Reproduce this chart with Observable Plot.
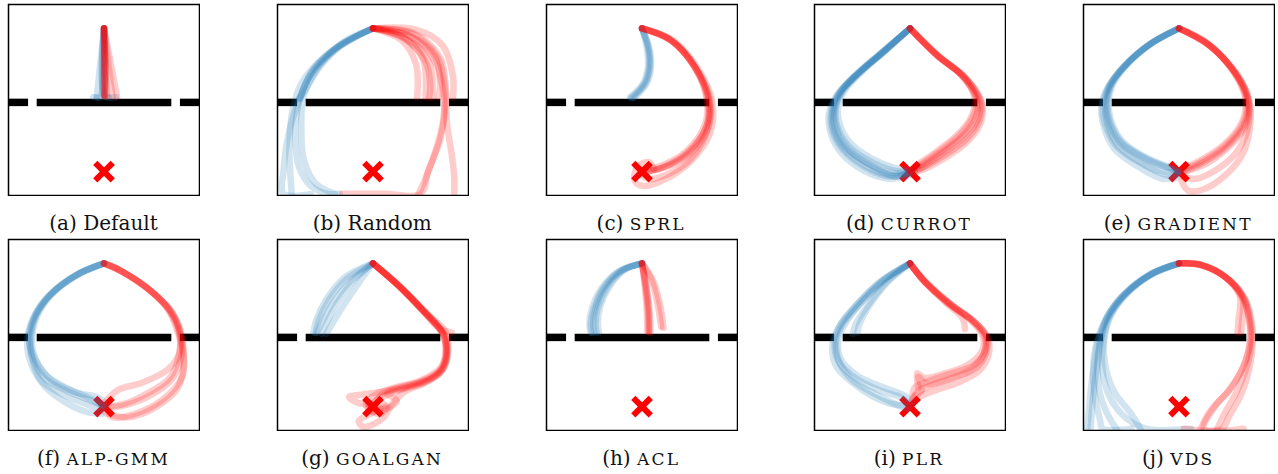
<!DOCTYPE html>
<html><head><meta charset="utf-8">
<script src="https://cdn.jsdelivr.net/npm/d3@7"></script>
<script src="https://cdn.jsdelivr.net/npm/@observablehq/plot@0.6"></script>
<style>
body{margin:0;background:#fff;width:1278px;height:474px;position:relative;overflow:hidden}
.panel{position:absolute}
.cap{position:absolute;width:268px;text-align:center;font-family:"DejaVu Serif";font-size:20px;line-height:24px;color:#111;white-space:nowrap}
.sc{font-size:17px;letter-spacing:2.2px}
</style></head><body>
<script>
// ---- labels ----
const letters = ["a","b","c","d","e","f","g","h","i","j"];
const methods = ["Default","Random","SPRL","CURROT","GRADIENT","ALP-GMM","GOALGAN","ACL","PLR","VDS"];
const smallCaps = [false,false,true,true,true,true,true,true,true,true];

// ---- environment ----
const wallSegments = [[-4,-3.18],[-2.82,2.82],[3.18,4]];
const wallY = -0.1;
const target = [[0,-3]];

// ---- trajectories (env coordinates, each a list of [x,y]) ----
const defaultBlue = [
  [[0,3],[-0.05,0.15],[-0.45,0.12]],
  [[0,3],[-0.15,0.15],[-0.3,0.12]],
  [[0,3],[-0.3,0.15]],
  [[0,3],[0.0,0.15],[0.2,0.12]],
  [[0,3],[0.05,0.15],[0.5,0.12]]
];
const defaultRed = [
  [[0,3],[0.02,0.15]],[[0,3],[0.05,0.15]],[[0,3],[0.0,0.2]],[[0,3],[0.04,0.18]],
  [[0,3],[0.35,0.15]],[[0,3],[0.55,0.12]],[[0,3],[0.12,0.15]]
];
const randomBlue = [
  [[0,3],[-1.4,2.3],[-2.5,1.3],[-3.1,0],[-3.55,-1.5],[-3.75,-3],[-3.75,-3.93],[-2.6,-3.95]],
  [[0,3],[-1.6,2.1],[-2.7,0.9],[-3.15,-0.3],[-3.25,-1.7],[-3.1,-2.8],[-2.6,-3.6],[-1.9,-3.93],[-1.4,-3.93]],
  [[0,3],[-1.3,2.3],[-2.3,1.3],[-2.9,0.2],[-3.0,-1.2],[-2.9,-2.5],[-2.4,-3.5],[-1.6,-3.93]],
  [[0,3],[-1.8,2.0],[-3.0,0.7],[-3.4,-0.6],[-3.5,-2.2],[-3.4,-3.95]],
  [[0,3],[-1.5,2.2],[-2.6,1.1],[-3.05,0.05]],
  [[0,3],[-1.2,2.45],[-2.2,1.5],[-2.85,0.4],[-3.1,0.05]]
];
const randomRed = [
  [[0,3],[1.2,2.5],[1.8,1.5],[1.85,0.1]],
  [[0,3],[1.3,2.6],[2.1,1.7],[2.2,0.1]],
  [[0,3],[1.4,2.6],[2.35,1.6],[2.5,0.1]],
  [[0,3],[1.5,2.7],[2.6,1.8],[2.8,0.7],[2.75,0.1]],
  [[0,3],[1.8,2.95],[2.9,2.3],[3.35,1.0],[3.35,0.1]],
  [[0,3],[1.6,2.8],[2.7,1.8],[3.0,0.6],[3.0,-0.5],[2.8,-1.7],[2.3,-3.0],[2.0,-3.93],[0.5,-3.93],[-1.3,-3.93]],
  [[0,3],[1.7,2.8],[2.8,1.8],[3.05,0.5],[3.1,-1.0],[3.3,-2.3],[3.4,-3.2],[3.4,-3.95]],
  [[0,3],[1.5,2.7],[2.6,1.6],[2.95,0.3],[2.95,-0.8],[2.6,-2.2],[2.2,-3.3],[1.9,-3.95]],
  [[0,3],[1.35,2.55],[2.2,1.6],[2.4,0.6],[2.35,0.1]]
];
const sprlBlue = [
  [[0,3],[0.25,2.2],[0.3,1.4],[0.1,0.7],[-0.4,0.1]],
  [[0,3],[0.3,2.2],[0.38,1.4],[0.2,0.7],[-0.3,0.1]],
  [[0,3],[0.2,2.2],[0.25,1.4],[0.05,0.7],[-0.5,0.12]],
  [[0,3],[0.27,2.2],[0.33,1.4],[0.14,0.7],[-0.45,0.08]]
];
const sprlRed = [
  [[0,3],[1.2,2.5],[2.2,1.4],[2.75,0],[2.7,-1.1],[1.9,-2.2],[0.9,-2.8],[0.1,-3.05]],
  [[0,3],[1.25,2.48],[2.25,1.35],[2.85,0],[2.8,-1.1],[2.0,-2.25],[0.9,-2.85],[0.05,-3.0]],
  [[0,3],[1.15,2.55],[2.15,1.45],[2.7,0.1],[2.65,-1.0],[1.85,-2.15],[0.8,-2.75],[0.0,-2.95]],
  [[0,3],[1.3,2.5],[2.35,1.3],[2.95,-0.1],[2.85,-1.4],[2.0,-2.6],[1.0,-3.3],[0.1,-3.6],[-0.3,-3.4],[-0.2,-2.8],[0.3,-2.6],[0.5,-2.9]],
  [[0,3],[1.2,2.52],[2.2,1.4],[2.8,0],[2.75,-1.2],[2.1,-2.4],[1.1,-3.1],[0.3,-3.3],[-0.1,-3.1]],
  [[0,3],[1.22,2.5],[2.22,1.38],[2.8,0.05],[2.72,-1.05],[1.95,-2.2],[0.95,-2.8],[0.05,-3.0]]
];
const currotBlue = [
  [[0,3],[-1.2,1.95],[-2.2,1.1],[-2.9,0.35],[-3.2,-0.4],[-3.15,-1.2],[-2.7,-2.0],[-1.8,-2.65],[-0.8,-3.05],[0,-3]],
  [[0,3],[-1.1,2.0],[-2.1,1.15],[-2.8,0.4],[-3.1,-0.3],[-3.05,-1.1],[-2.6,-1.9],[-1.7,-2.55],[-0.7,-2.95],[0,-3]],
  [[0,3],[-1.3,1.9],[-2.3,1.0],[-3.0,0.25],[-3.3,-0.5],[-3.25,-1.3],[-2.8,-2.1],[-1.9,-2.8],[-0.9,-3.2],[-0.1,-3.1]],
  [[0,3],[-1.15,1.98],[-2.15,1.12],[-2.85,0.38],[-3.15,-0.35],[-3.1,-1.15],[-2.65,-2.0],[-1.7,-2.7],[-0.6,-3.2],[0.2,-2.95]],
  [[0,3],[-1.22,1.93],[-2.25,1.05],[-2.95,0.3],[-3.25,-0.45],[-3.2,-1.25],[-2.75,-2.05],[-1.85,-2.75],[-0.85,-3.15],[0.05,-3.05]],
  [[0,3],[-1.35,1.85],[-2.4,0.95],[-3.1,0.15],[-3.4,-0.6],[-3.3,-1.45],[-2.85,-2.25],[-1.95,-2.95],[-0.9,-3.3],[-0.05,-3.15]],
  [[0,3],[-1.05,2.05],[-2.0,1.2],[-2.7,0.45],[-3.0,-0.25],[-2.95,-1.0],[-2.5,-1.8],[-1.6,-2.45],[-0.6,-2.85],[0,-2.95]]
];
const currotRed = [
  [[0,3],[1.15,1.85],[2.1,1.1],[2.65,0.4],[2.85,-0.15],[2.7,-0.85],[2.15,-1.55],[1.15,-2.3],[0.3,-2.85],[0,-3]],
  [[0,3],[1.2,1.8],[2.2,1.05],[2.75,0.35],[2.95,-0.2],[2.8,-0.9],[2.2,-1.6],[1.2,-2.35],[0.35,-2.9],[0.05,-3.0]],
  [[0,3],[1.1,1.9],[2.05,1.15],[2.6,0.45],[2.8,-0.1],[2.6,-0.8],[2.05,-1.5],[1.1,-2.25],[0.3,-2.8],[0,-3]],
  [[0,3],[1.25,1.8],[2.25,1.0],[2.8,0.3],[3.0,-0.2],[2.85,-1.0],[2.3,-1.7],[1.3,-2.4],[0.4,-2.9],[0.05,-3.0]],
  [[0,3],[1.3,1.75],[2.3,0.95],[2.85,0.25],[3.05,-0.3],[2.9,-1.1],[2.35,-1.8],[1.35,-2.5],[0.45,-2.95],[0.05,-3.0]],
  [[0,3],[1.05,1.95],[2.0,1.2],[2.55,0.5],[2.72,-0.05],[2.55,-0.75],[2.0,-1.45],[1.05,-2.2],[0.25,-2.75],[0,-2.95]]
];
const gradientBlue = [
  [[0,3],[-1.2,2.35],[-2.3,1.4],[-2.9,0.55],[-3.05,-0.15],[-2.95,-0.9],[-2.45,-1.8],[-1.35,-2.5],[-0.35,-2.9],[0,-3]],
  [[0,3],[-1.1,2.4],[-2.2,1.45],[-2.8,0.6],[-2.95,-0.1],[-2.85,-0.85],[-2.35,-1.75],[-1.3,-2.45],[-0.3,-2.85],[0,-3]],
  [[0,3],[-1.3,2.3],[-2.4,1.3],[-3.0,0.45],[-3.2,-0.25],[-3.1,-1.0],[-2.6,-1.95],[-1.5,-2.7],[-0.5,-3.15],[0,-3.1]],
  [[0,3],[-1.25,2.3],[-2.35,1.35],[-2.95,0.5],[-3.1,-0.2],[-3.0,-1.0],[-2.55,-1.9],[-1.6,-2.6],[-0.7,-3.0],[0.05,-3.0]],
  [[0,3],[-1.15,2.38],[-2.25,1.42],[-2.85,0.58],[-3.0,-0.12],[-2.9,-0.88],[-2.4,-1.78],[-1.32,-2.48],[-0.32,-2.88],[0,-3]],
  [[0,3],[-1.35,2.25],[-2.45,1.25],[-3.05,0.4],[-3.25,-0.3],[-3.15,-1.1],[-2.7,-2.05],[-1.7,-2.8],[-0.7,-3.3],[-0.1,-3.25]]
];
const gradientRed = [
  [[0,3],[1.2,2.35],[2.15,1.4],[2.75,0.4],[2.9,-0.3],[2.7,-1.1],[2.0,-1.95],[1.05,-2.6],[0.2,-3.0]],
  [[0,3],[1.25,2.3],[2.2,1.35],[2.8,0.35],[2.95,-0.3],[2.75,-1.15],[2.05,-2.0],[1.1,-2.7],[0.25,-3.0]],
  [[0,3],[1.15,2.4],[2.1,1.45],[2.7,0.45],[2.85,-0.25],[2.65,-1.05],[1.95,-1.9],[1.0,-2.55],[0.15,-2.95]],
  [[0,3],[1.25,2.3],[2.25,1.3],[2.85,0.3],[3.0,-0.4],[2.95,-1.3],[2.7,-2.2],[2.0,-3.1],[1.0,-3.75],[0.4,-3.8],[0.1,-3.4]],
  [[0,3],[1.2,2.33],[2.2,1.38],[2.8,0.38],[2.95,-0.4],[2.85,-1.3],[2.4,-2.2],[1.6,-2.9],[0.7,-3.3],[0.15,-3.2]],
  [[0,3],[1.1,2.45],[2.05,1.5],[2.65,0.5],[2.8,-0.2],[2.6,-1.0],[1.9,-1.85],[0.95,-2.5],[0.1,-2.9]]
];
const alpgmmBlue = [
  [[0,3],[-1.1,2.55],[-2.25,1.7],[-2.85,0.85],[-3.1,0],[-3.05,-0.8],[-2.5,-1.8],[-1.55,-2.35],[-0.55,-2.75],[0,-3]],
  [[0,3],[-1.0,2.6],[-2.1,1.8],[-2.75,0.9],[-3.0,0.05],[-2.95,-0.75],[-2.4,-1.7],[-1.4,-2.3],[-0.5,-2.7],[0,-3]],
  [[0,3],[-1.2,2.5],[-2.35,1.6],[-2.95,0.75],[-3.2,-0.1],[-3.15,-0.9],[-2.65,-1.9],[-1.7,-2.5],[-0.6,-2.95],[-0.05,-3.1]],
  [[0,3],[-1.15,2.5],[-2.3,1.65],[-2.9,0.8],[-3.15,-0.05],[-2.9,-1.0],[-2.2,-1.9],[-1.2,-2.4],[-0.3,-2.6],[0.1,-2.9]],
  [[0,3],[-1.05,2.55],[-2.2,1.7],[-2.85,0.8],[-3.05,0.0],[-3.0,-1.0],[-2.6,-2.0],[-1.8,-2.7],[-0.8,-3.2],[-0.1,-3.3]]
];
const alpgmmRed = [
  [[0,3],[0.7,2.7],[1.95,1.85],[2.75,1.0],[3.15,0.05],[3.15,-0.8],[2.75,-1.8],[1.8,-2.45],[0.8,-2.9],[0.1,-3.0]],
  [[0,3],[0.75,2.65],[2.0,1.8],[2.85,0.95],[3.25,0],[3.25,-0.85],[2.85,-1.85],[1.9,-2.55],[0.85,-2.95],[0.15,-3.05]],
  [[0,3],[0.65,2.72],[1.9,1.9],[2.7,1.05],[3.1,0.1],[3.3,-0.6],[3.3,-1.7],[2.4,-2.75],[1.3,-3.3],[0.4,-3.45],[0,-3.2]],
  [[0,3],[0.7,2.7],[1.95,1.85],[2.8,1.0],[3.2,0],[3.1,-0.9],[2.6,-1.5],[1.6,-2.0],[0.6,-2.3],[0.05,-2.8]],
  [[0,3],[0.72,2.68],[2.0,1.82],[2.82,0.95],[3.22,0.0],[3.35,-1.0],[3.1,-2.2],[2.2,-3.0],[1.0,-3.45],[0.2,-3.3]]
];
const goalganBlue = [
  [[0,3],[-0.95,2.25],[-1.65,1.4],[-2.1,0.6],[-2.35,0.1]],
  [[0,3],[-1.2,2.4],[-1.95,1.5],[-2.35,0.7],[-2.5,0.1]],
  [[0,3],[-0.55,2.25],[-1.2,1.3],[-1.75,0.4],[-1.95,0.05]],
  [[0,3],[-0.8,2.3],[-1.5,1.35],[-1.95,0.5],[-2.15,0.05]],
  [[0,3],[-1.1,2.35],[-1.85,1.45],[-2.25,0.65],[-2.4,0.08]]
];
const goalganRed = [
  [[0,3],[1.15,2.0],[2.1,1.0],[2.75,0.3],[3.3,0.1]],
  [[0,3],[1.1,2.05],[2.05,1.05],[2.7,0.35],[3.0,0.0],[3.05,-0.6],[2.85,-1.35],[2.0,-1.9],[0.9,-2.2],[0.1,-2.5],[-0.3,-2.9],[0,-3.2],[0.5,-3.0]],
  [[0,3],[1.2,1.95],[2.2,0.95],[2.85,0.2],[3.05,-0.3],[3.1,-0.9],[2.9,-1.5],[2.1,-2.0],[1.0,-2.35],[0.2,-2.7],[-0.2,-3.1],[0.3,-3.3],[0.6,-3.0],[0.2,-2.8]],
  [[0,3],[1.15,2.0],[2.15,0.98],[2.8,0.25],[3.0,-0.2],[3.0,-1.1],[2.6,-1.7],[1.6,-2.1],[0.5,-2.35],[-0.5,-2.5],[-1.0,-2.6],[-0.6,-2.85],[0.1,-2.9]],
  [[0,3],[1.1,2.02],[2.1,1.02],[2.78,0.28],[3.02,-0.25],[3.05,-1.0],[2.8,-1.6],[2.2,-2.0],[1.3,-2.4],[0.8,-2.9],[0.4,-3.5],[-0.4,-3.85],[-0.6,-3.6],[-0.1,-3.3],[0.3,-3.1]],
  [[0,3],[1.2,1.97],[2.25,0.9],[3.0,0.2],[3.15,-0.4],[3.0,-1.3],[2.4,-1.85],[1.4,-2.2],[0.6,-2.45],[1.0,-2.75],[0.5,-3.1],[-0.2,-2.9]],
  [[0,3],[1.12,2.02],[2.12,1.0],[2.8,0.3],[3.05,-0.1],[3.1,-0.8],[2.85,-1.45],[2.0,-1.95],[0.9,-2.25],[0.3,-2.55],[0.0,-3.0]]
];
const aclBlue = [
  [[0,3],[-0.9,2.7],[-1.6,2.0],[-2.0,1.15],[-2.15,0.45],[-2.1,0.1]],
  [[0,3],[-0.8,2.7],[-1.45,2.0],[-1.85,1.15],[-1.95,0.45],[-1.9,0.1]],
  [[0,3],[-1.0,2.65],[-1.7,1.95],[-2.1,1.1],[-2.2,0.4],[-2.15,0.1]],
  [[0,3],[-0.7,2.75],[-1.35,2.05],[-1.75,1.2],[-1.85,0.5],[-1.8,0.1]],
  [[0,3],[-0.85,2.7],[-1.55,2.0],[-1.95,1.12],[-2.05,0.42],[-2.0,0.1]]
];
const aclRed = [
  [[0,3],[0.15,2.0],[0.25,1.0],[0.28,0.15]],
  [[0,3],[0.2,2.0],[0.32,1.0],[0.35,0.1]],
  [[0,3],[0.12,2.0],[0.2,1.0],[0.22,0.15]],
  [[0,3],[0.17,2.0],[0.28,1.0],[0.3,0.12]],
  [[0,3],[0.45,2.3],[0.75,1.3],[0.9,0.3]],
  [[0,3],[0.4,2.3],[0.65,1.3],[0.8,0.35]]
];
const plrBlue = [
  [[0,3],[-1.2,2.25],[-2.2,1.3],[-2.9,0.45],[-3.15,-0.25],[-3.0,-1.1],[-2.3,-1.8],[-1.2,-2.35],[-0.4,-2.6],[0,-2.9]],
  [[0,3],[-1.1,2.3],[-2.0,1.4],[-2.7,0.5],[-3.0,-0.2],[-2.9,-1.0],[-2.2,-1.7],[-1.1,-2.2],[-0.3,-2.5],[0.1,-2.8]],
  [[0,3],[-1.0,2.2],[-1.8,1.2],[-2.3,0.4],[-2.4,0.05]],
  [[0,3],[-0.9,2.25],[-1.65,1.3],[-2.1,0.5],[-2.2,0.1]],
  [[0,3],[-1.3,2.2],[-2.3,1.2],[-3.0,0.3],[-3.25,-0.4],[-3.1,-1.3],[-2.4,-2.0],[-1.6,-2.55],[-0.9,-2.85],[-0.3,-2.95]],
  [[0,3],[-1.15,2.2],[-2.15,1.25],[-2.85,0.4],[-3.1,-0.3],[-2.95,-1.15],[-2.4,-1.9],[-1.5,-2.45],[-0.6,-2.9],[-0.1,-3.1]]
];
const plrRed = [
  [[0,3],[0.55,2.3],[1.5,1.35],[2.2,0.7],[2.3,0.25]],
  [[0,3],[0.6,2.25],[1.65,1.3],[2.6,0.6],[3.1,0.0],[3.15,-0.65],[2.7,-1.25],[1.6,-1.65],[0.75,-1.95],[0.2,-2.2],[0.1,-2.7]],
  [[0,3],[0.65,2.2],[1.75,1.25],[2.7,0.55],[3.2,-0.05],[3.2,-0.7],[2.8,-1.35],[1.8,-1.8],[0.9,-2.1],[0.3,-2.4],[0.05,-2.85]],
  [[0,3],[0.55,2.3],[1.55,1.35],[2.5,0.65],[3.0,0.05],[3.05,-0.6],[2.5,-1.2],[1.5,-1.6],[0.6,-1.8],[0.3,-1.6],[0.35,-2.2]],
  [[0,3],[0.7,2.2],[1.8,1.2],[2.75,0.5],[3.25,-0.1],[3.3,-0.8],[2.9,-1.5],[2.0,-2.0],[1.1,-2.3],[0.4,-2.6],[0.0,-3.0]],
  [[0,3],[0.6,2.25],[1.7,1.3],[2.65,0.6],[3.15,0.0],[3.1,-0.75],[2.6,-1.4],[1.6,-1.85],[0.7,-2.05],[0.35,-1.75],[0.5,-2.3],[0.2,-2.55]]
];
const vdsBlue = [
  [[0,3],[-1.2,2.55],[-2.3,1.7],[-3.0,0.75],[-3.35,-0.1],[-3.55,-1.2],[-3.7,-2.35],[-3.8,-3.5],[-3.85,-3.95]],
  [[0,3],[-1.1,2.6],[-2.2,1.75],[-2.9,0.8],[-3.15,-0.1],[-3.2,-1.5],[-2.9,-2.6],[-2.2,-3.5],[-1.35,-3.93],[0.5,-3.93]],
  [[0,3],[-1.15,2.55],[-2.25,1.7],[-2.95,0.75],[-3.25,-0.1],[-3.4,-1.3],[-3.3,-2.5],[-2.9,-3.5],[-2.6,-3.95]],
  [[0,3],[-1.25,2.5],[-2.4,1.6],[-3.1,0.6],[-3.45,-0.3],[-3.6,-1.5],[-3.5,-2.7],[-3.3,-3.6],[-3.2,-3.93],[-2.0,-3.93]],
  [[0,3],[-1.05,2.6],[-2.1,1.8],[-2.8,0.9],[-3.1,0.0],[-3.1,-1.2],[-2.7,-2.4],[-2.0,-3.3],[-1.6,-3.95]],
  [[0,3],[-1.2,2.5],[-2.35,1.65],[-3.05,0.7],[-3.3,-0.2],[-3.45,-1.4],[-3.6,-2.6],[-3.7,-3.95]]
];
const vdsRed = [
  [[0,3],[0.9,2.95],[2.0,2.4],[2.7,1.55],[2.95,0.6],[3.0,-0.1],[2.75,-1.2],[2.2,-2.2],[1.5,-3.0],[1.05,-3.93],[2.7,-3.93]],
  [[0,3],[0.95,2.92],[2.05,2.35],[2.75,1.5],[3.0,0.55],[3.05,-0.15],[2.85,-1.3],[2.4,-2.4],[1.9,-3.3],[1.6,-3.95]],
  [[0,3],[0.85,2.97],[1.9,2.45],[2.55,1.6],[2.5,0.7],[2.45,0.1]],
  [[0,3],[0.9,2.95],[1.95,2.42],[2.65,1.55],[2.65,0.6],[2.6,0.1]],
  [[0,3],[1.0,2.9],[2.1,2.3],[2.8,1.45],[3.05,0.5],[3.1,-0.2],[2.95,-1.4],[2.6,-2.5],[2.1,-3.4],[1.8,-3.93],[0.2,-3.93]],
  [[0,3],[0.92,2.93],[2.0,2.38],[2.7,1.5],[2.95,0.5],[2.98,-0.2],[2.7,-1.3],[2.1,-2.3],[1.3,-3.2],[0.9,-3.95]]
];

const blueSets = [defaultBlue, randomBlue, sprlBlue, currotBlue, gradientBlue, alpgmmBlue, goalganBlue, aclBlue, plrBlue, vdsBlue];
const redSets  = [defaultRed, randomRed, sprlRed, currotRed, gradientRed, alpgmmRed, goalganRed, aclRed, plrRed, vdsRed];

// ---- layout ----
const colLeft = [8, 276.7, 545.7, 813.5, 1082.7];
const rowTop = [4, 238.7];
const capTop = [211, 446];

function rows(arr, tag) {
  return arr.flatMap((t, i) => t.map(([x, y]) => ({id: tag + i, x, y})));
}

function panel(blue, red) {
  return Plot.plot({
    width: 193, height: 193, margin: 1,
    x: {domain: [-4, 4], axis: null},
    y: {domain: [-4, 4], axis: null},
    marks: [
      Plot.link(wallSegments, {x1: d => d[0], x2: d => d[1], y1: () => wallY, y2: () => wallY, stroke: "black", strokeWidth: 7.5}),
      Plot.dot(target, {x: d => d[0], y: d => d[1], symbol: "times", r: 8, stroke: "#ff0000", strokeWidth: 6}),
      Plot.line(rows(blue, "b"), {x: "x", y: "y", z: "id", curve: "catmull-rom", stroke: "#1f77b4", strokeOpacity: 0.2, strokeWidth: 6.5, clip: true}),
      Plot.line(rows(red, "r"), {x: "x", y: "y", z: "id", curve: "catmull-rom", stroke: "#ff0000", strokeOpacity: 0.2, strokeWidth: 6.5, clip: true}),
      Plot.frame({stroke: "black", strokeWidth: 1.5})
    ]
  });
}

for (let k = 0; k < 10; k++) {
  const r = Math.floor(k / 5), c = k % 5;
  const div = document.createElement("div");
  div.className = "panel";
  div.style.left = (colLeft[c] - 1) + "px";
  div.style.top = (rowTop[r] - 1) + "px";
  div.appendChild(panel(blueSets[k], redSets[k]));
  document.body.appendChild(div);

  const cap = document.createElement("div");
  cap.className = "cap";
  cap.style.left = (colLeft[c] + 95.5 - 134) + "px";
  cap.style.top = capTop[r] + "px";
  const pre = document.createElement("span");
  pre.textContent = "(" + letters[k] + ") ";
  cap.appendChild(pre);
  const name = document.createElement("span");
  name.textContent = methods[k];
  if (smallCaps[k]) name.className = "sc";
  cap.appendChild(name);
  document.body.appendChild(cap);
}
</script>
</body></html>
